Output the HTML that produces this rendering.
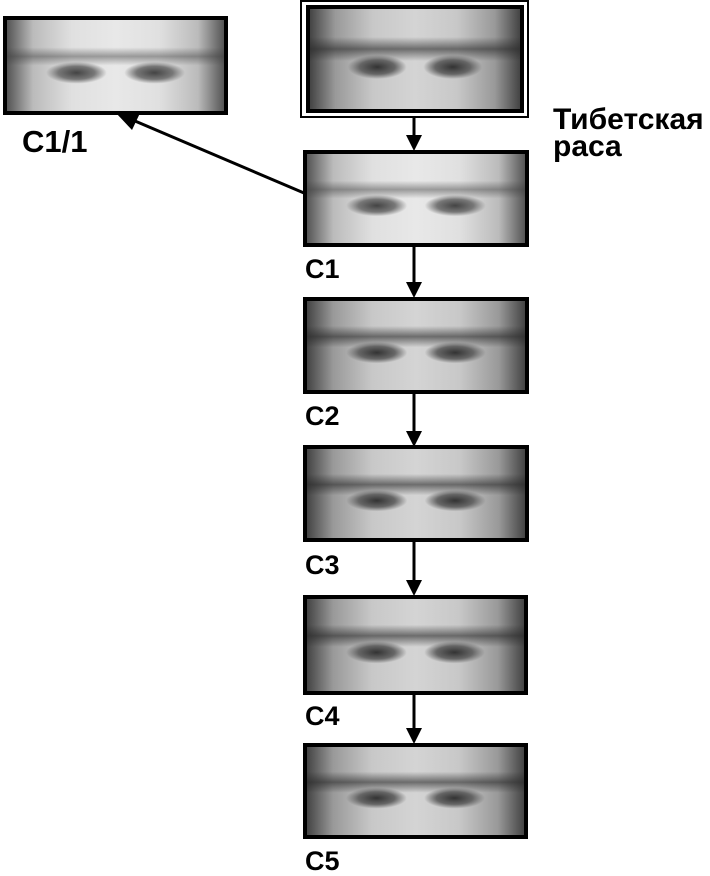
<!DOCTYPE html>
<html><head><meta charset="utf-8"><style>
body{margin:0;width:710px;height:870px;background:#fff;position:relative;overflow:hidden;font-family:"Liberation Sans",sans-serif}
.b{position:absolute;border:4px solid #000;box-sizing:border-box;
background:
radial-gradient(ellipse 14% 12% at 32% 58%,#444 0,#777 60%,transparent 100%),
radial-gradient(ellipse 14% 12% at 68% 58%,#444 0,#777 60%,transparent 100%),
linear-gradient(180deg,transparent 30%,rgba(60,60,60,.45) 40%,transparent 50%),
linear-gradient(90deg,#555 0,#bbb 12%,#e0e0e0 30%,#e8e8e8 50%,#e0e0e0 70%,#bbb 88%,#555 100%)}
.d{background:
radial-gradient(ellipse 14% 12% at 32% 58%,#333 0,#666 60%,transparent 100%),
radial-gradient(ellipse 14% 12% at 68% 58%,#333 0,#666 60%,transparent 100%),
linear-gradient(180deg,transparent 28%,rgba(40,40,40,.6) 40%,transparent 52%),
linear-gradient(90deg,#444 0,#999 12%,#c8c8c8 30%,#d4d4d4 50%,#c8c8c8 70%,#999 88%,#444 100%)}
.l{position:absolute;font-weight:bold;font-size:27px;line-height:1}
</style></head><body>
<div style="position:absolute;left:300px;top:0;width:229px;height:118px;border:2px solid #000;box-sizing:border-box"></div>
<div class="b d" style="left:306px;top:5px;width:218px;height:108px"></div>
<div class="b" style="left:3px;top:16px;width:225px;height:99px"></div>
<div class="b" style="left:303px;top:150px;width:226px;height:97px"></div>
<div class="b d" style="left:303px;top:297px;width:226px;height:97px"></div>
<div class="b d" style="left:303px;top:445px;width:226px;height:97px"></div>
<div class="b d" style="left:303px;top:595px;width:225px;height:100px"></div>
<div class="b d" style="left:303px;top:743px;width:225px;height:96px"></div>
<svg width="710" height="870" style="position:absolute;left:0;top:0">
<g stroke="#000" stroke-width="3">
<line x1="414" y1="118" x2="414" y2="136"/>
<line x1="414" y1="247" x2="414" y2="283"/>
<line x1="414" y1="394" x2="414" y2="432"/>
<line x1="414" y1="542" x2="414" y2="581"/>
<line x1="414" y1="695" x2="414" y2="729"/>
<line x1="304" y1="193" x2="135" y2="121"/>
</g>
<g fill="#000">
<polygon points="406,135 422,135 414,151"/>
<polygon points="406,282 422,282 414,298"/>
<polygon points="406,431 422,431 414,447"/>
<polygon points="406,580 422,580 414,596"/>
<polygon points="406,728 422,728 414,744"/>
<polygon points="116,113 141,111 132,130"/>
</g>
</svg>
<div class="l" style="left:22px;top:126px;font-size:31px">C1/1</div>
<div class="l" style="left:553px;top:106px;font-size:30px;line-height:27px">Тибетская<br>раса</div>
<div class="l" style="left:305px;top:256px">C1</div>
<div class="l" style="left:305px;top:403px">C2</div>
<div class="l" style="left:305px;top:552px">C3</div>
<div class="l" style="left:305px;top:703px">C4</div>
<div class="l" style="left:305px;top:848px">C5</div>
</body></html>
